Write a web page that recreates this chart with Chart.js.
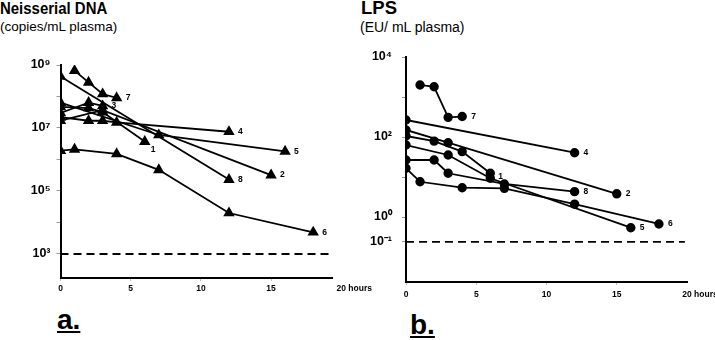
<!DOCTYPE html>
<html>
<head>
<meta charset="utf-8">
<script src="https://cdn.jsdelivr.net/npm/chart.js@4.4.1/dist/chart.umd.min.js"></script>
<style>
  body { margin: 0; background: #fff; }
  #wrap { position: relative; width: 715px; height: 340px; overflow: hidden; font-family: "Liberation Sans", Arial, sans-serif; color: #000; }
  .title { position: absolute; font-weight: bold; font-size: 17px; line-height: 1; white-space: nowrap; transform-origin: 0 0; }
  .unit { position: absolute; font-size: 13.5px; line-height: 1; white-space: nowrap; }
  .panel { position: absolute; font-family: "Liberation Sans Narrow", "Liberation Sans", Arial, sans-serif; font-weight: bold; font-size: 28px; line-height: 1; text-decoration: underline; }
  .box { position: absolute; top: 0; height: 340px; }
</style>
</head>
<body>
<div id="wrap">
  <div class="title" style="left:0;top:0;transform:scaleX(0.88)">Neisserial DNA</div>
  <div class="unit" style="left:0;top:20px">(copies/mL plasma)</div>
  <div class="title" style="left:361px;top:-1px;font-size:18.5px">LPS</div>
  <div class="unit" style="left:360px;top:20px;font-size:14px">(EU/ mL plasma)</div>
  <div class="panel" style="left:57px;top:306px">a.</div>
  <div class="panel" style="left:410px;top:311px">b.</div>
  <div class="box" style="left:0;width:380px"><canvas id="dna-chart"></canvas></div>
  <div class="box" style="left:360px;width:355px"><canvas id="lps-chart"></canvas></div>
</div>
<script>
// panel a: Neisserial DNA, copies/mL plasma
const dnaNames = ['1', '2', '3', '4', '5', '6', '7', '8'];
const dnaHours = [
  [0, 2, 3, 6],
  [0, 3, 15],
  [0, 2, 3],
  [0, 2, 3, 4, 12],
  [0, 7, 16],
  [0, 1, 4, 7, 12, 18],
  [1, 2, 3, 4],
  [0, 12]
];
const dnaCopies = [
  [4.7e7, 4.3e7, 3.2e7, 3.7e6],
  [1.7e7, 3.7e7, 3.2e5],
  [3.0e7, 6.4e7, 5.0e7],
  [2.2e7, 1.7e7, 1.7e7, 1.5e7, 7.6e6],
  [6.4e7, 6.0e6, 1.8e6],
  [1.9e6, 2.1e6, 1.5e6, 4.7e5, 2.0e4, 4.9e3],
  [6.6e8, 2.8e8, 1.2e8, 9.0e7],
  [4.3e8, 2.3e5]
];
const dnaLimit = 1e3;
const dnaTicks = [1e9, 1e8, 1e7, 1e6, 1e5, 1e4, 1e3];

// panel b: LPS, EU/mL plasma
const lpsNames = ['1', '2', '4', '5', '6', '7', '8'];
const lpsHours = [
  [0, 2, 4, 6],
  [0, 3, 15],
  [0, 12],
  [0, 3, 6, 16],
  [0, 1, 4, 7, 12, 18],
  [1, 2, 3, 4],
  [0, 2, 3, 7, 12]
];
const lpsEU = [
  [106, 79, 43, 12.4],
  [150, 72, 3.8],
  [266, 40.5],
  [63, 35.5, 9.3, 0.54],
  [16.5, 7.6, 5.4, 5.2, 2.1, 0.67],
  [2000, 1800, 310, 325],
  [26.6, 26.6, 12.4, 6.7, 4.3]
];
const lpsLimit = 0.24;  // dashed line, labelled 10^-1 in the figure
const lpsTicks = [1e4, 1e3, 1e2, 1e1, 1e0, lpsLimit];

const hourTicks = [0, 5, 10, 15];

const sup = { '0': '⁰', '1': '¹', '2': '²', '3': '³', '4': '⁴', '5': '⁵', '6': '⁶', '7': '⁷', '8': '⁸', '9': '⁹', '-': '⁻' };
function pow10(e) {
  return '10' + String(e).split('').map(c => sup[c]).join('');
}

// draws the series numbers and the "20 hours" label
const extrasPlugin = {
  id: 'extras',
  afterDraw(chart, args, opts) {
    const ctx = chart.ctx;
    ctx.save();
    ctx.fillStyle = '#000';
    ctx.font = 'bold 8.5px "Liberation Sans", Arial, sans-serif';
    ctx.textBaseline = 'middle';
    ctx.textAlign = 'left';
    chart.data.datasets.forEach((ds, i) => {
      if (!ds.tag) return;
      const meta = chart.getDatasetMeta(i);
      const pt = meta.data[meta.data.length - 1];
      const nudge = opts.nudge[ds.tag] || [9, 0];
      ctx.fillText(ds.tag, pt.x + nudge[0], pt.y + nudge[1]);
    });
    const x20 = chart.scales.x.getPixelForValue(20);
    ctx.textBaseline = 'top';
    ctx.fillText('20 hours', x20 - ctx.measureText('20').width / 2, opts.hoursY);
    ctx.restore();
  }
};

function makeChart(id, p) {
  const datasets = p.names.map((name, i) => ({
    tag: name,
    data: p.hours[i].map((h, j) => ({ x: h, y: p.values[i][j] })),
    borderColor: '#000',
    backgroundColor: '#000',
    borderWidth: 1.8,
    pointStyle: p.pointStyle,
    pointRadius: p.pointRadius,
    tension: 0
  }));
  datasets.push({
    data: [{ x: 0, y: p.limit }, { x: p.limitEnd, y: p.limit }],
    borderColor: '#000',
    borderWidth: 1.8,
    borderDash: [8, 5],
    pointRadius: 0
  });

  return new Chart(document.getElementById(id), {
    type: 'line',
    data: { datasets: datasets },
    options: {
      responsive: true,
      maintainAspectRatio: false,
      animation: false,
      layout: { padding: p.padding },
      plugins: {
        legend: { display: false },
        tooltip: { enabled: false },
        extras: { nudge: p.nudge, hoursY: p.hoursY }
      },
      scales: {
        x: {
          type: 'linear',
          min: 0,
          max: p.xMax,
          afterBuildTicks: s => { s.ticks = hourTicks.map(v => ({ value: v })); },
          afterFit: s => { s.height = 22; },
          border: { display: true, color: '#000', width: 2 },
          grid: { drawOnChartArea: false, drawTicks: true, tickLength: 3, color: '#bbb' },
          ticks: {
            color: '#000',
            padding: p.xPad,
            maxRotation: 0,
            font: { family: '"Liberation Sans", Arial, sans-serif', size: 8.5, weight: 'bold' }
          }
        },
        y: {
          type: 'logarithmic',
          min: p.yMin,
          max: p.yMax,
          afterBuildTicks: s => { s.ticks = p.yTicks.map(v => ({ value: v })); },
          afterFit: s => { s.width = p.yWidth; },
          border: { display: true, color: '#000', width: 2 },
          grid: { drawOnChartArea: false, drawTicks: true, tickLength: 4, color: '#999' },
          ticks: {
            color: '#000',
            padding: p.yPad,
            autoSkip: false,
            font: { family: '"Liberation Sans", Arial, sans-serif', size: 12.5, weight: 'bold' },
            callback: p.yLabel
          }
        }
      }
    },
    plugins: [extrasPlugin]
  });
}

document.addEventListener('DOMContentLoaded', () => {
  makeChart('dna-chart', {
    names: dnaNames, hours: dnaHours, values: dnaCopies,
    pointStyle: 'triangle', pointRadius: 4.8,
    limit: dnaLimit, limitEnd: 19.34,
    xMax: 19.34, yMin: Math.pow(10, 2.238), yMax: 1e9, yTicks: dnaTicks,
    yWidth: 60.5, yPad: 6, xPad: 3, hoursY: 284,
    padding: { top: 65, right: 48, bottom: 40, left: 0 },
    nudge: { '1': [6, 8] },
    yLabel: v => {
      const e = Math.round(Math.log10(v));
      return e % 2 === 1 ? pow10(e) : '';
    }
  });

  makeChart('lps-chart', {
    names: lpsNames, hours: lpsHours, values: lpsEU,
    pointStyle: 'circle', pointRadius: 3.8,
    limit: lpsLimit, limitEnd: 19.85,
    xMax: 20, yMin: Math.pow(10, -1.625), yMax: 1e4, yTicks: lpsTicks,
    yWidth: 46, yPad: 10, xPad: 5, hoursY: 290,
    padding: { top: 57, right: 28, bottom: 36, left: 0 },
    nudge: { '1': [8, 3] },
    yLabel: v => {
      if (v === lpsLimit) return pow10(-1);
      const e = Math.round(Math.log10(v));
      return e % 2 === 0 ? pow10(e) : '';
    }
  });
});
</script>
</body>
</html>
